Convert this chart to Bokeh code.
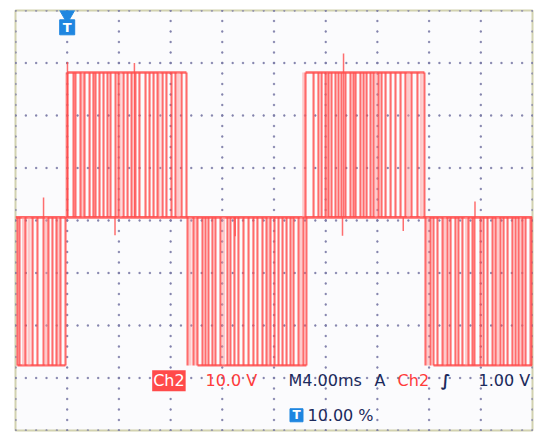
import numpy as np
from bokeh.plotting import figure
from bokeh.models import Label, Range1d
from bokeh.embed import file_html
from bokeh.resources import INLINE

# ---- data (read from the scope screen) ----
# time axis: 4.00 ms/div, 10 div ; Ch2: 10.0 V/div, 8 div
ZERO_V = 0.6
HIGH_V = 28.2
LOW_V = -27.6

# pulse edge times (ms) in each half cycle
neg_a = [0.15, 0.31, 0.77, 1.32, 1.70, 2.17, 2.55, 2.86, 3.17, 3.48, 3.87]
pos_b = [4.02, 4.49, 4.64, 5.03, 5.34, 5.73, 6.03, 6.19, 6.50, 6.81, 7.12, 7.35, 7.74,
         7.97, 8.36, 8.67, 8.98, 9.28, 9.59, 10.06, 10.37, 10.68, 10.99, 11.38, 11.68,
         12.07, 12.38, 12.85, 13.23]
neg_c = [13.31, 13.77, 14.08, 14.47, 14.70, 14.93, 15.24, 15.47, 15.86, 16.40, 16.63,
         16.94, 17.25, 17.64, 18.03, 18.41, 18.72, 19.11, 19.42, 19.73, 20.04, 20.35,
         20.66, 20.97, 21.28, 21.51, 21.90, 22.28, 22.51]
pos_d = [22.44, 23.06, 23.44, 23.68, 23.99, 24.22, 24.45, 24.76, 24.99, 25.22, 25.53,
         25.92, 26.15, 26.31, 26.69, 26.93, 27.16, 27.47, 27.70, 28.09, 28.32, 28.63,
         29.02, 29.40, 29.79, 30.17, 30.64, 31.10, 31.64]
neg_e = [31.72, 32.11, 32.34, 32.65, 33.04, 33.42, 33.66, 34.04, 34.27, 34.58, 35.05,
         35.36, 35.51, 35.98, 36.21, 36.52, 36.91, 37.14, 37.52, 37.76, 38.07, 38.45,
         38.69, 38.92, 39.23, 39.46, 39.85, 39.97]

# faint (low-intensity) pulse edges (ms) and the level they reach
faint_t = [0.62, 1.05, 2.40, 3.30, 3.95, 5.20, 8.10, 11.10, 12.60, 13.50, 13.95, 16.10,
           19.60, 22.10, 22.30, 24.10, 27.90, 30.40, 31.40, 31.90, 33.20, 34.90, 37.30,
           39.10]
faint_v = [LOW_V, LOW_V, LOW_V, LOW_V, HIGH_V, HIGH_V, HIGH_V, HIGH_V, HIGH_V, LOW_V, LOW_V,
           LOW_V, LOW_V, LOW_V, HIGH_V, HIGH_V, HIGH_V, HIGH_V, HIGH_V, LOW_V, LOW_V,
           LOW_V, LOW_V, LOW_V]

# spans of the flat top / bottom levels (ms)
level_start = [0.15, 4.02, 14.08, 22.44, 32.34]
level_end = [3.87, 13.23, 22.51, 31.64, 39.97]
level_val = [LOW_V, HIGH_V, LOW_V, HIGH_V, LOW_V]

# noise spikes (ms, V)
spike_t = [2.17, 4.02, 7.70, 9.20, 17.0, 25.30, 25.38, 30.0, 35.55]
spike_v = [4.4, 30.2, -2.8, 30.0, -3.0, -2.9, 31.8, -2.0, 3.6]

TRIGGER_T = 4.0

# ---- figure ----
p = figure(width=534, height=433, x_range=Range1d(0, 40), y_range=Range1d(-40, 40),
           x_axis_location=None, y_axis_location=None, toolbar_location=None,
           output_backend="svg", min_border=0)
p.min_border_left = 15
p.min_border_right = 2
p.min_border_top = 10
p.min_border_bottom = 3
p.xgrid.visible = False
p.ygrid.visible = False
p.background_fill_color = "#fbfbfd"
p.border_fill_color = "white"
p.outline_line_color = "#d2d2b0"
p.outline_line_width = 2

# grid dots
gx, gy = [], []
for xv in np.arange(0, 40.01, 4):
    for yv in np.arange(-40, 40.01, 2):
        gx.append(xv); gy.append(yv)
for yv in np.arange(-40, 40.01, 10):
    for xv in np.arange(0, 40.01, 0.8):
        gx.append(xv); gy.append(yv)
p.scatter(gx, gy, marker="square", size=1.3, color="#7c7ca8", alpha=0.8)

RED = "#ff4b4b"

# zero line
p.line([0, 40], [ZERO_V, ZERO_V], line_color=RED, line_width=2.6, alpha=0.85)

# flat levels
for s, e, v in zip(level_start, level_end, level_val):
    p.line([s, e], [v, v], line_color=RED, line_width=2.4, alpha=0.85)

# faint edges
p.segment(x0=faint_t, y0=[ZERO_V] * len(faint_t), x1=faint_t, y1=faint_v,
          line_color="#ff9a9a", line_width=3, alpha=0.5)

# pulse edges
for times, lev in ((neg_a, LOW_V), (pos_b, HIGH_V), (neg_c, LOW_V), (pos_d, HIGH_V), (neg_e, LOW_V)):
    p.segment(x0=times, y0=[ZERO_V] * len(times), x1=times, y1=[lev] * len(times),
              line_color=RED, line_width=2.1, alpha=0.82)

# spikes
p.segment(x0=spike_t, y0=[ZERO_V] * len(spike_t), x1=spike_t, y1=spike_v,
          line_color=RED, line_width=1.5, alpha=0.8)

# trigger marker at top
BLUE = "#1f86e0"
p.scatter([TRIGGER_T], [39.2], marker="inverted_triangle", size=15, color=BLUE)
p.scatter([TRIGGER_T], [36.8], marker="square", size=15, color=BLUE)
p.add_layout(Label(x=TRIGGER_T, y=36.8, text="T", text_color="white", text_font="DejaVu Sans",
                   text_font_size="13px", text_font_style="bold", text_align="center",
                   text_baseline="middle"))

NAVY = "#1c2a5c"
FONT = "DejaVu Sans"
FS = "16px"
YT = -30.5

p.add_layout(Label(x=11.87, y=YT, text="Ch2", text_color="white", text_font=FONT,
                   text_font_size=FS, text_align="center", text_baseline="middle",
                   background_fill_color="#ff4a4a", padding=1))
p.add_layout(Label(x=14.7, y=YT, text="10.0 V", text_color="#ff3b3b", text_font=FONT,
                   text_font_size=FS, text_baseline="middle"))
p.add_layout(Label(x=21.12, y=YT, text="M4.00ms", text_color=NAVY, text_font=FONT,
                   text_font_size=FS, text_baseline="middle"))
p.add_layout(Label(x=27.78, y=YT, text="A", text_color=NAVY, text_font=FONT,
                   text_font_size=FS, text_baseline="middle"))
p.add_layout(Label(x=29.56, y=YT, text="Ch2", text_color="#ff3b3b", text_font=FONT,
                   text_font_size=FS, text_baseline="middle"))
p.add_layout(Label(x=32.9, y=YT, text="\u222b", text_color=NAVY, text_font=FONT,
                   text_font_size=FS, text_font_style="bold", text_baseline="middle"))
p.add_layout(Label(x=35.82, y=YT, text="1.00 V", text_color=NAVY, text_font=FONT,
                   text_font_size=FS, text_baseline="middle"))

p.scatter([21.74], [-37.1], marker="square", size=13, color=BLUE)
p.add_layout(Label(x=21.74, y=-37.1, text="T", text_color="white", text_font=FONT,
                   text_font_size="12px", text_font_style="bold", text_align="center",
                   text_baseline="middle"))
p.add_layout(Label(x=22.59, y=-37.1, text="10.00 %", text_color=NAVY, text_font=FONT,
                   text_font_size=FS, text_baseline="middle"))

open("out.html", "w").write(file_html(p, INLINE))
